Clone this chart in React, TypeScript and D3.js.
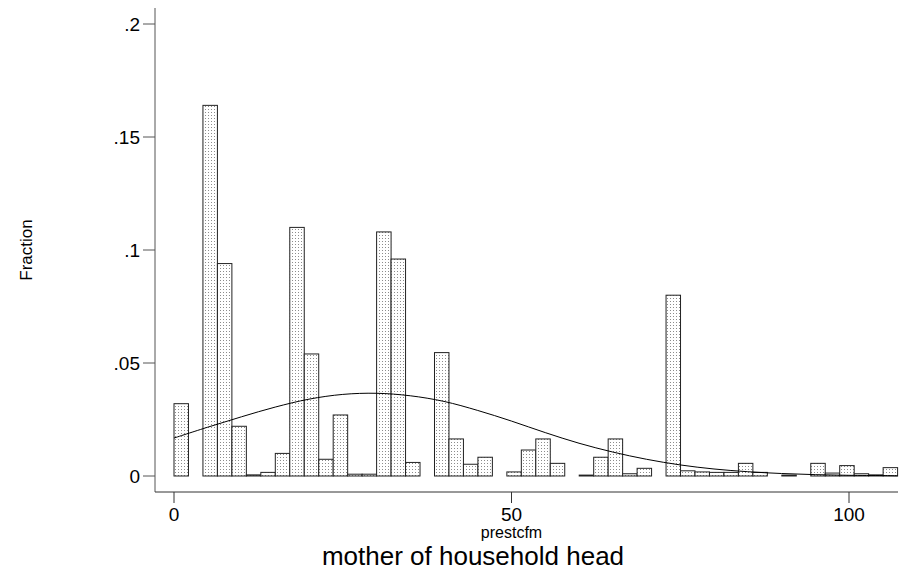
import * as d3 from 'd3';

// histogram of prestcfm, 50 bins from 0 to 107.2
const binCount = 50;
const xMaxValue = 107.2;
const fractions = [
  0.032, 0, 0.164, 0.094, 0.022, 0.0005, 0.0016, 0.010, 0.110, 0.054,
  0.0074, 0.027, 0.0008, 0.0008, 0.108, 0.096, 0.006, 0, 0.0546, 0.0164,
  0.0052, 0.0083, 0, 0.0018, 0.0115, 0.0164, 0.0056, 0, 0.0004, 0.0083,
  0.0164, 0.001, 0.0034, 0, 0.080, 0.0023, 0.0018, 0.0016, 0.0016, 0.0056,
  0.0016, 0, 0.0004, 0, 0.0056, 0.0013, 0.0046, 0.001, 0.0005, 0.0037,
];

// normal density overlay
const curveX = [0, 5, 10, 15, 20, 25, 30, 35, 40, 45, 50, 55, 60, 65, 70, 75, 80, 85, 90, 95, 100, 105, 107.2];
const curveY = [0.0168, 0.0216, 0.0262, 0.0305, 0.034, 0.0361, 0.0366, 0.0355, 0.033, 0.029, 0.0243, 0.0192, 0.0145, 0.0106, 0.0074, 0.0049, 0.0031, 0.0019, 0.0011, 0.0006, 0.0003, 0.0002, 0.0001];

const xTicks = [0, 50, 100];
const yTicks = [0, 0.05, 0.1, 0.15, 0.2];
const yTickLabels = ['0', '.05', '.1', '.15', '.2'];

export default function App() {
  const width = 924;
  const height = 575;
  const axisLeft = 155;
  const axisBottom = 492;
  const plotRight = 898;

  const x = d3.scaleLinear().domain([0, 100]).range([174, 849]);
  const y = d3.scaleLinear().domain([0, 0.2]).range([476, 24]);
  const binW = xMaxValue / binCount;

  const line = d3.line<number>()
    .x((_, i) => x(curveX[i]))
    .y(d => y(d))
    .curve(d3.curveCatmullRom);

  const font = '"Liberation Sans", Arial, sans-serif';

  return (
    <svg width={width} height={height} style={{ position: 'absolute', left: 0, top: 0, background: '#fff' }}>
      <defs>
        <pattern id="dots" patternUnits="userSpaceOnUse" width={3} height={3}>
          <rect width={3} height={3} fill="#fff" />
          <rect x={1} y={1} width={1} height={1} fill="#8c8c8c" />
        </pattern>
      </defs>

      {/* bars */}
      {fractions.map((v, i) => v > 0 && (
        <rect
          key={i}
          x={x(i * binW)}
          y={y(v)}
          width={x((i + 1) * binW) - x(i * binW)}
          height={y(0) - y(v)}
          fill="url(#dots)"
          stroke="#222"
          strokeWidth={1}
        />
      ))}

      {/* density curve */}
      <path d={line(curveY) || ''} fill="none" stroke="#000" strokeWidth={1} />

      {/* y axis */}
      <line x1={axisLeft} x2={axisLeft} y1={8} y2={axisBottom} stroke="#555" />
      {yTicks.map((t, i) => (
        <g key={t}>
          <line x1={axisLeft - 12} x2={axisLeft} y1={y(t)} y2={y(t)} stroke="#555" />
          <text x={axisLeft - 15} y={y(t)} dy="0.36em" textAnchor="end" fontFamily={font} fontSize={19}>
            {yTickLabels[i]}
          </text>
        </g>
      ))}
      <text
        transform={`translate(32,${y(0.1)}) rotate(-90)`}
        textAnchor="middle"
        fontFamily={font}
        fontSize={17}
      >
        Fraction
      </text>

      {/* x axis */}
      <line x1={axisLeft} x2={plotRight} y1={axisBottom} y2={axisBottom} stroke="#333" />
      {xTicks.map(t => (
        <g key={t}>
          <line x1={x(t)} x2={x(t)} y1={axisBottom} y2={axisBottom + 11} stroke="#333" />
          <text x={x(t)} y={521} textAnchor="middle" fontFamily={font} fontSize={19}>
            {t}
          </text>
        </g>
      ))}
      <text x={x(50)} y={538} textAnchor="middle" fontFamily={font} fontSize={16}>
        prestcfm
      </text>
      <text x={473} y={565} textAnchor="middle" fontFamily={font} fontSize={26}>
        mother of household head
      </text>
    </svg>
  );
}
